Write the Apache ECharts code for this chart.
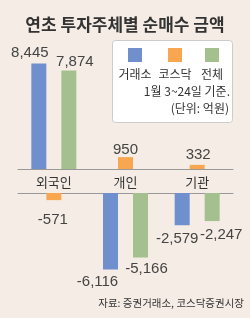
<!DOCTYPE html>
<html>
<head>
<meta charset="utf-8">
<script src="https://cdn.jsdelivr.net/npm/echarts@6/dist/echarts.min.js"></script>
<style>
html,body{margin:0;padding:0;background:#f5ede5;}
#main{width:250px;height:318px;}
</style>
</head>
<body>
<div id="main"></div>
<script>
// 데이터
var categories = ['외국인', '개인', '기관'];
var seriesNames = ['거래소', '코스닥', '전체'];
var exchangeVals = [8445, -6116, -2579];
var kosdaqVals = [-571, 950, 332];
var totalVals = [7874, -5166, -2247];

var titleText = '연초 투자주체별 순매수 금액';
var noteLines = ['1월 3~24일 기준.', '(단위: 억원)'];
var sourceText = '자료: 증권거래소, 코스닥증권시장';

var colors = ['#6f8fcd', '#f9a650', '#a4c08e'];
var krFont = '"Noto Sans CJK KR", sans-serif';
var numFont = '"Liberation Sans", Arial, sans-serif';

// 라벨 위치 보정 [dx, dy] (시리즈별, 카테고리별)
var labelNudge = [
	[[-9, -1], [-13, 3], [-5, 4]],
	[[-1, 10], [0, 2], [1, 0]],
	[[6, 1], [6, 2], [9, 4]]
];

function fmt(v){
	var s = Math.abs(v).toString().replace(/\B(?=(\d{3})+(?!\d))/g, ',');
	return v < 0 ? '-' + s : s;
}

function makeSeries(idx, vals, positive){
	var data = [];
	for(var i=0;i<vals.length;i++){
		var v = vals[i];
		if((positive && v > 0) || (!positive && v < 0)){
			data.push({
				value: v,
				label: {offset: labelNudge[idx][i]}
			});
		}else{
			data.push('-');
		}
	}
	return {
		name: seriesNames[idx],
		type: 'bar',
		xAxisIndex: positive ? 0 : 1,
		yAxisIndex: positive ? 0 : 1,
		barWidth: 15,
		barGap: '0%',
		itemStyle: {color: colors[idx]},
		label: {
			show: true,
			position: positive ? 'top' : 'bottom',
			distance: 2,
			fontFamily: numFont,
			fontSize: 15,
			color: '#444',
			formatter: function(p){ return fmt(p.value); }
		},
		data: data
	};
}

var allVals = [exchangeVals, kosdaqVals, totalVals];
var series = [];
for(var k=0;k<3;k++){
	series.push(makeSeries(k, allVals[k], true));
}
for(var k=0;k<3;k++){
	series.push(makeSeries(k, allVals[k], false));
}

// 범례 박스
var graphics = [
	{type:'rect', shape:{x:112.5, y:40.5, width:120, height:82, r:3},
	 style:{fill:'#ffffff', stroke:'#cccccc', lineWidth:1}, z:10}
];
var legendX = [135, 175, 212];
for(var j=0;j<seriesNames.length;j++){
	graphics.push({type:'rect', shape:{x:legendX[j]-7, y:48, width:14, height:14},
		style:{fill:colors[j]}, z:11});
	graphics.push({type:'text', x:legendX[j], y:74, z:11,
		style:{text:seriesNames[j], fill:'#333', font:'12px ' + krFont,
			textAlign:'center', textVerticalAlign:'middle'}});
}
graphics.push({type:'text', x:230, y:91, z:11,
	style:{text:noteLines[0], fill:'#333', font:'12px ' + krFont, textAlign:'right', textVerticalAlign:'middle'}});
graphics.push({type:'text', x:229, y:108, z:11,
	style:{text:noteLines[1], fill:'#333', font:'12px ' + krFont, textAlign:'right', textVerticalAlign:'middle'}});
graphics.push({type:'text', x:244, y:303, z:11,
	style:{text:sourceText, fill:'#333', font:'10.5px ' + krFont, textAlign:'right', textVerticalAlign:'middle'}});

var option = {
	backgroundColor: '#f5ede5',
	animation: false,
	title: {
		text: titleText,
		left: 'center',
		top: 11,
		textStyle: {fontFamily: krFont, fontSize: 17, fontWeight: 'bold', color: '#333'}
	},
	grid: [
		{left: 18, right: 17, top: 44, height: 125},
		{left: 18, right: 17, top: 193, height: 100}
	],
	xAxis: [
		{
			gridIndex: 0,
			type: 'category',
			data: categories,
			axisTick: {show: false},
			axisLine: {lineStyle: {color: '#999', width: 1}},
			axisLabel: {margin: 7, fontFamily: krFont, fontSize: 13, color: '#333'}
		},
		{
			gridIndex: 1,
			type: 'category',
			position: 'top',
			data: categories,
			axisTick: {show: false},
			axisLine: {lineStyle: {color: '#999', width: 1}},
			axisLabel: {show: false}
		}
	],
	yAxis: [
		{gridIndex: 0, type: 'value', min: 0, max: 10000, show: false},
		{gridIndex: 1, type: 'value', min: -8000, max: 0, show: false}
	],
	graphic: graphics,
	series: series
};

var myChart = echarts.init(document.getElementById('main'));
myChart.setOption(option);
</script>
</body>
</html>
